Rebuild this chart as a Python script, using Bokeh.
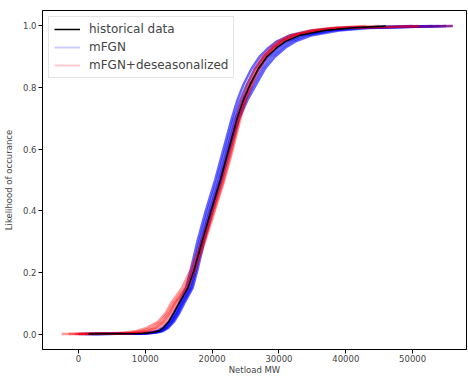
from bokeh.plotting import figure
from bokeh.models import (Legend, LegendItem, FixedTicker, NumeralTickFormatter, Range1d)
from bokeh.embed import file_html
from bokeh.resources import INLINE

# cumulative probability levels (y) at which the x values below were read
quantiles = [0.0, 0.002, 0.005, 0.01, 0.02, 0.04, 0.07, 0.1, 0.15, 0.21, 0.3, 0.4, 0.5,
             0.6, 0.7, 0.76, 0.81, 0.86, 0.9, 0.93, 0.95, 0.97, 0.985, 0.993, 1.0]

# historical netload (MW) at each cumulative level
historical = [1500, 9500, 11000, 12000, 12700, 13500, 14300, 15050, 16400, 17330, 18500,
              19850, 21250, 22500, 23750, 24700, 25700, 26880, 28200, 29700, 31000, 33200,
              36800, 40700, 46000]

# mFGN synthetic runs
mfgn_1 = [0, 9200, 10700, 11800, 12600, 13500, 14300, 15050, 16100, 16830, 17800, 19050,
          20450, 21700, 22950, 23800, 24700, 25880, 27100, 28500, 29700, 31700, 35000,
          38700, 50000]
mfgn_2 = [1000, 9500, 11000, 12100, 12850, 13700, 14550, 15250, 16400, 17130, 18100, 19350,
          20750, 22000, 23250, 24200, 25200, 26380, 27700, 29100, 30400, 32500, 36000,
          39900, 53000]
mfgn_3 = [1500, 9800, 11300, 12300, 13050, 13900, 14750, 15450, 16700, 17430, 18350, 19650,
          21050, 22300, 23550, 24600, 25700, 26980, 28400, 29900, 31300, 33500, 37100,
          41200, 56000]
mfgn_4 = [2000, 10000, 11500, 12500, 13250, 14100, 14950, 15650, 16900, 17630, 18600, 19850,
          21250, 22500, 23850, 25000, 26200, 27480, 28900, 30500, 31900, 34200, 38000,
          42200, 54000]
mfgn_5 = [2500, 10200, 11700, 12700, 13450, 14300, 15150, 15850, 17100, 17830, 18800, 20050,
          21450, 22700, 24050, 25300, 26600, 27880, 29400, 31000, 32500, 35000, 39000,
          43500, 55000]
mfgn_runs = [mfgn_1, mfgn_2, mfgn_3, mfgn_4, mfgn_5]

# mFGN + deseasonalized synthetic runs
deseas_1 = [-2500, 5000, 7000, 8700, 10200, 11900, 13100, 13850, 15500, 16830, 18400, 19850,
            21250, 22500, 23650, 24400, 25300, 26380, 27500, 28800, 29900, 31700, 34600,
            37700, 43000]
deseas_2 = [-1500, 6000, 8000, 9500, 10900, 12300, 13400, 14250, 15900, 17130, 18600, 20050,
            21450, 22700, 23850, 24700, 25600, 26680, 27800, 29100, 30200, 32100, 35100,
            38400, 45000]
deseas_3 = [-500, 7000, 9000, 10300, 11500, 12700, 13700, 14450, 16100, 17330, 18800, 20250,
            21700, 22950, 24100, 24900, 25800, 26880, 28000, 29300, 30500, 32400, 35600,
            39200, 51000]
deseas_4 = [500, 8000, 9800, 11000, 12000, 13100, 14000, 14750, 16400, 17530, 18950, 20400,
            21850, 23100, 24250, 25100, 26000, 27080, 28200, 29500, 30700, 32700, 36000,
            39700, 56000]
deseas_runs = [deseas_1, deseas_2, deseas_3, deseas_4]

x_ticks = [0, 10000, 20000, 30000, 40000, 50000]
y_ticks = [0.0, 0.2, 0.4, 0.6, 0.8, 1.0]

p = figure(width=468, height=377, output_backend="svg", toolbar_location=None,
           x_range=Range1d(-5370, 58060), y_range=Range1d(-0.05, 1.05),
           min_border_left=41, min_border_top=10, min_border_right=2, min_border_bottom=25)

for run in mfgn_runs:
    p.line(run, quantiles, line_color="blue", line_alpha=0.6, line_width=2.5)
lg_mfgn = p.line(mfgn_3, quantiles, line_color="blue", line_alpha=0.2, line_width=2)
for run in deseas_runs:
    p.line(run, quantiles, line_color="red", line_alpha=0.4, line_width=2.5)
lg_des = p.line(deseas_3, quantiles, line_color="red", line_alpha=0.2, line_width=2)
lg_hist = p.line(historical, quantiles, line_color="black", line_width=1.5)

legend = Legend(items=[LegendItem(label="historical data", renderers=[lg_hist]),
                       LegendItem(label="mFGN", renderers=[lg_mfgn]),
                       LegendItem(label="mFGN+deseasonalized", renderers=[lg_des])],
                location="top_left")
legend.label_text_font = "DejaVu Sans"
legend.label_text_font_size = "12px"
legend.label_height = 14
legend.glyph_height = 14
legend.glyph_width = 26
legend.label_standoff = 9
legend.spacing = 4
legend.padding = 5
legend.margin = 6
legend.border_line_color = "#cccccc"
legend.background_fill_alpha = 0.8
p.add_layout(legend)

p.xgrid.visible = False
p.ygrid.visible = False
p.outline_line_color = "black"
p.outline_line_width = 1

p.xaxis.ticker = FixedTicker(ticks=x_ticks)
p.yaxis.ticker = FixedTicker(ticks=y_ticks)
p.xaxis.formatter = NumeralTickFormatter(format="0")
p.yaxis.formatter = NumeralTickFormatter(format="0.0")
p.xaxis.axis_label = "Netload MW"
p.yaxis.axis_label = "Likelihood of occurance"
for ax in (p.xaxis, p.yaxis):
    ax.major_label_text_font = "DejaVu Sans"
    ax.major_label_text_font_size = "8.5px"
    ax.axis_label_text_font = "DejaVu Sans"
    ax.axis_label_text_font_size = "8.5px"
    ax.axis_label_text_font_style = "normal"
    ax.minor_tick_line_color = None
    ax.major_tick_out = 4
    ax.major_tick_in = 0
    ax.axis_line_color = "black"
    ax.major_tick_line_color = "black"
    ax.major_label_standoff = 1
    ax.axis_label_standoff = 0
p.yaxis.major_label_standoff = 2
p.yaxis.axis_label_standoff = 6

with open("out.html", "w") as f:
    f.write(file_html(p, INLINE))
